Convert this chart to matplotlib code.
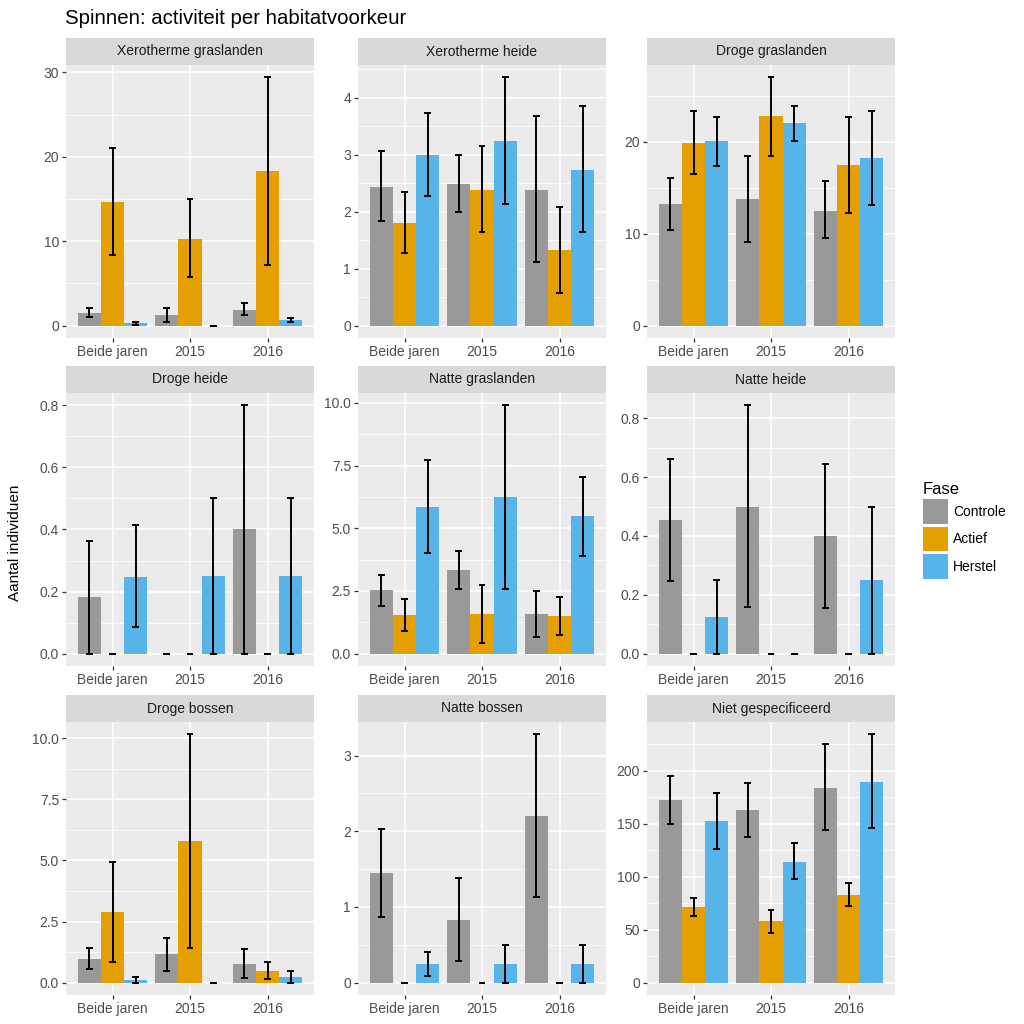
import matplotlib
matplotlib.use("Agg")
import matplotlib.pyplot as plt
from matplotlib.patches import Patch
import numpy as np

plt.rcParams["font.family"] = ["Liberation Sans", "DejaVu Sans"]

# ---- data ----
habitats = [
    "Xerotherme graslanden", "Xerotherme heide", "Droge graslanden",
    "Droge heide", "Natte graslanden", "Natte heide",
    "Droge bossen", "Natte bossen", "Niet gespecificeerd",
]
periods = ["Beide jaren", "2015", "2016"]
phases = ["Controle", "Actief", "Herstel"]
phase_colors = ["#999999", "#E69F00", "#56B4E9"]

# per habitat: [Beide jaren, 2015, 2016]
controle_mean = [[1.55, 1.26, 1.9], [2.44, 2.49, 2.39], [13.2, 13.8, 12.5],
                 [0.181, 0.0, 0.4], [2.52, 3.32, 1.58], [0.453, 0.5, 0.4],
                 [0.98, 1.15, 0.77], [1.45, 0.83, 2.2], [172.7, 162.7, 184.0]]
controle_lo = [[1.0, 0.47, 1.26], [1.84, 1.99, 1.11], [10.4, 9.1, 9.5],
               [0.0, 0.0, 0.0], [1.91, 2.57, 0.66], [0.247, 0.159, 0.154],
               [0.56, 0.49, 0.19], [0.87, 0.29, 1.13], [150.0, 137.3, 143.9]]
controle_hi = [[2.1, 2.05, 2.68], [3.06, 3.0, 3.69], [16.1, 18.5, 15.7],
               [0.363, 0.0, 0.8], [3.14, 4.08, 2.51], [0.663, 0.844, 0.646],
               [1.41, 1.82, 1.37], [2.03, 1.38, 3.28], [195.0, 189.0, 225.0]]

actief_mean = [[14.7, 10.3, 18.3], [1.81, 2.39, 1.33], [19.9, 22.8, 17.5],
               [0.0, 0.0, 0.0], [1.53, 1.58, 1.49], [0.0, 0.0, 0.0],
               [2.9, 5.79, 0.47], [0.0, 0.0, 0.0], [71.5, 58.0, 82.8]]
actief_lo = [[8.4, 5.7, 7.2], [1.27, 1.65, 0.57], [16.5, 18.5, 12.3],
             [0.0, 0.0, 0.0], [0.89, 0.41, 0.73], [0.0, 0.0, 0.0],
             [0.85, 1.42, 0.14], [0.0, 0.0, 0.0], [63.3, 47.3, 72.4]]
actief_hi = [[21.0, 15.0, 29.4], [2.35, 3.15, 2.09], [23.3, 27.0, 22.7],
             [0.0, 0.0, 0.0], [2.17, 2.75, 2.24], [0.0, 0.0, 0.0],
             [4.94, 10.16, 0.83], [0.0, 0.0, 0.0], [80.0, 69.0, 94.4]]

herstel_mean = [[0.3, 0.0, 0.67], [3.0, 3.25, 2.74], [20.1, 22.0, 18.2],
                [0.248, 0.25, 0.25], [5.85, 6.23, 5.48], [0.123, 0.0, 0.25],
                [0.095, 0.0, 0.23], [0.25, 0.25, 0.25], [152.4, 114.4, 189.7]]
herstel_lo = [[0.12, 0.0, 0.39], [2.27, 2.14, 1.64], [17.4, 20.1, 13.1],
              [0.087, 0.0, 0.0], [4.02, 2.57, 3.91], [0.0, 0.0, 0.0],
              [0.0, 0.0, 0.0], [0.087, 0.0, 0.0], [126.0, 97.8, 146.0]]
herstel_hi = [[0.47, 0.0, 0.94], [3.74, 4.36, 3.86], [22.7, 23.9, 23.4],
              [0.414, 0.5, 0.5], [7.72, 9.9, 7.04], [0.25, 0.0, 0.5],
              [0.24, 0.0, 0.49], [0.41, 0.5, 0.5], [178.7, 131.7, 234.5]]

y_breaks = [[0, 10, 20, 30], [0, 1, 2, 3, 4], [0, 10, 20],
            [0, 0.2, 0.4, 0.6, 0.8], [0, 2.5, 5, 7.5, 10], [0, 0.2, 0.4, 0.6, 0.8],
            [0, 2.5, 5, 7.5, 10], [0, 1, 2, 3], [0, 50, 100, 150, 200]]
y_labels = [["0", "10", "20", "30"], ["0", "1", "2", "3", "4"], ["0", "10", "20"],
            ["0.0", "0.2", "0.4", "0.6", "0.8"], ["0.0", "2.5", "5.0", "7.5", "10.0"],
            ["0.0", "0.2", "0.4", "0.6", "0.8"], ["0.0", "2.5", "5.0", "7.5", "10.0"],
            ["0", "1", "2", "3"], ["0", "50", "100", "150", "200"]]

means = [controle_mean, actief_mean, herstel_mean]
lows = [controle_lo, actief_lo, herstel_lo]
highs = [controle_hi, actief_hi, herstel_hi]

# ---- layout (pixels on a 1024 canvas) ----
W = H = 1024
col_left = [66, 358, 647]
panel_w = 248
row_top = [65, 393, 722]   # top of plotting area (strip sits above)
panel_h = 273
strip_h = 27

fig = plt.figure(figsize=(10.24, 10.24), dpi=100)
fig.patch.set_facecolor("white")

bar_w = 0.3
x = np.arange(len(periods)) + 1
for k, hab in enumerate(habitats):
    r, c = divmod(k, 3)
    L, T = col_left[c], row_top[r]
    ax = fig.add_axes([L / W, 1 - (T + panel_h) / H, panel_w / W, panel_h / H])
    sax = fig.add_axes([L / W, 1 - T / H, panel_w / W, strip_h / H])
    sax.set_facecolor("#D9D9D9")
    sax.set_xticks([]); sax.set_yticks([])
    for s in sax.spines.values():
        s.set_visible(False)
    sax.text(0.5, 0.5, hab, ha="center", va="center", fontsize=10, color="#1A1A1A",
             transform=sax.transAxes)

    ax.set_facecolor("#EBEBEB")
    top = 0
    for p in range(3):
        xp = x + (p - 1) * bar_w
        m = np.array(means[p][k]); lo = np.array(lows[p][k]); hi = np.array(highs[p][k])
        ax.bar(xp, m, width=bar_w, color=phase_colors[p], zorder=2)
        ax.vlines(xp, lo, hi, color="black", lw=1.4, zorder=3)
        ax.hlines(lo, xp - 0.045, xp + 0.045, color="black", lw=1.4, zorder=3)
        ax.hlines(hi, xp - 0.045, xp + 0.045, color="black", lw=1.4, zorder=3)
        top = max(top, hi.max(), m.max())
    pad = 0.05 * top
    ax.set_ylim(-pad, top + pad)
    ax.set_xlim(0.4, 3.6)

    br = y_breaks[k]
    ax.set_yticks(br, y_labels[k])
    minor = [(a + b) / 2 for a, b in zip(br[:-1], br[1:])]
    step = br[1] - br[0]
    if br[-1] + step / 2 < top + pad:
        minor.append(br[-1] + step / 2)
    ax.set_yticks(minor, minor=True)
    ax.set_xticks(x, periods)
    ax.grid(True, which="major", color="white", lw=1.1, zorder=0)
    ax.grid(True, which="minor", axis="y", color="white", lw=0.55, zorder=0)
    ax.set_axisbelow(True)
    ax.tick_params(which="major", length=3, width=0.9, color="#333333",
                   labelcolor="#4D4D4D", labelsize=10, pad=2)
    ax.tick_params(which="minor", length=0)
    for s in ax.spines.values():
        s.set_visible(False)

fig.text(65 / W, 1 - 18 / H, "Spinnen: activiteit per habitatvoorkeur",
         fontsize=14.7, ha="left", va="center", color="black")
fig.text(15 / W, 1 - 543 / H, "Aantal individuen", rotation=90, fontsize=11,
         ha="center", va="center", color="black")

handles = [Patch(facecolor=col, edgecolor="none") for col in phase_colors]
leg = fig.legend(handles, phases, title="Fase", loc="upper left",
                 bbox_to_anchor=(917 / W, 1 - 476 / H), frameon=False,
                 fontsize=10, title_fontsize=12, handlelength=1.8,
                 handleheight=2.35, labelspacing=0.2, handletextpad=0.4,
                 borderaxespad=0)
leg._legend_box.align = "left"

fig.savefig("out.png", dpi=100)
